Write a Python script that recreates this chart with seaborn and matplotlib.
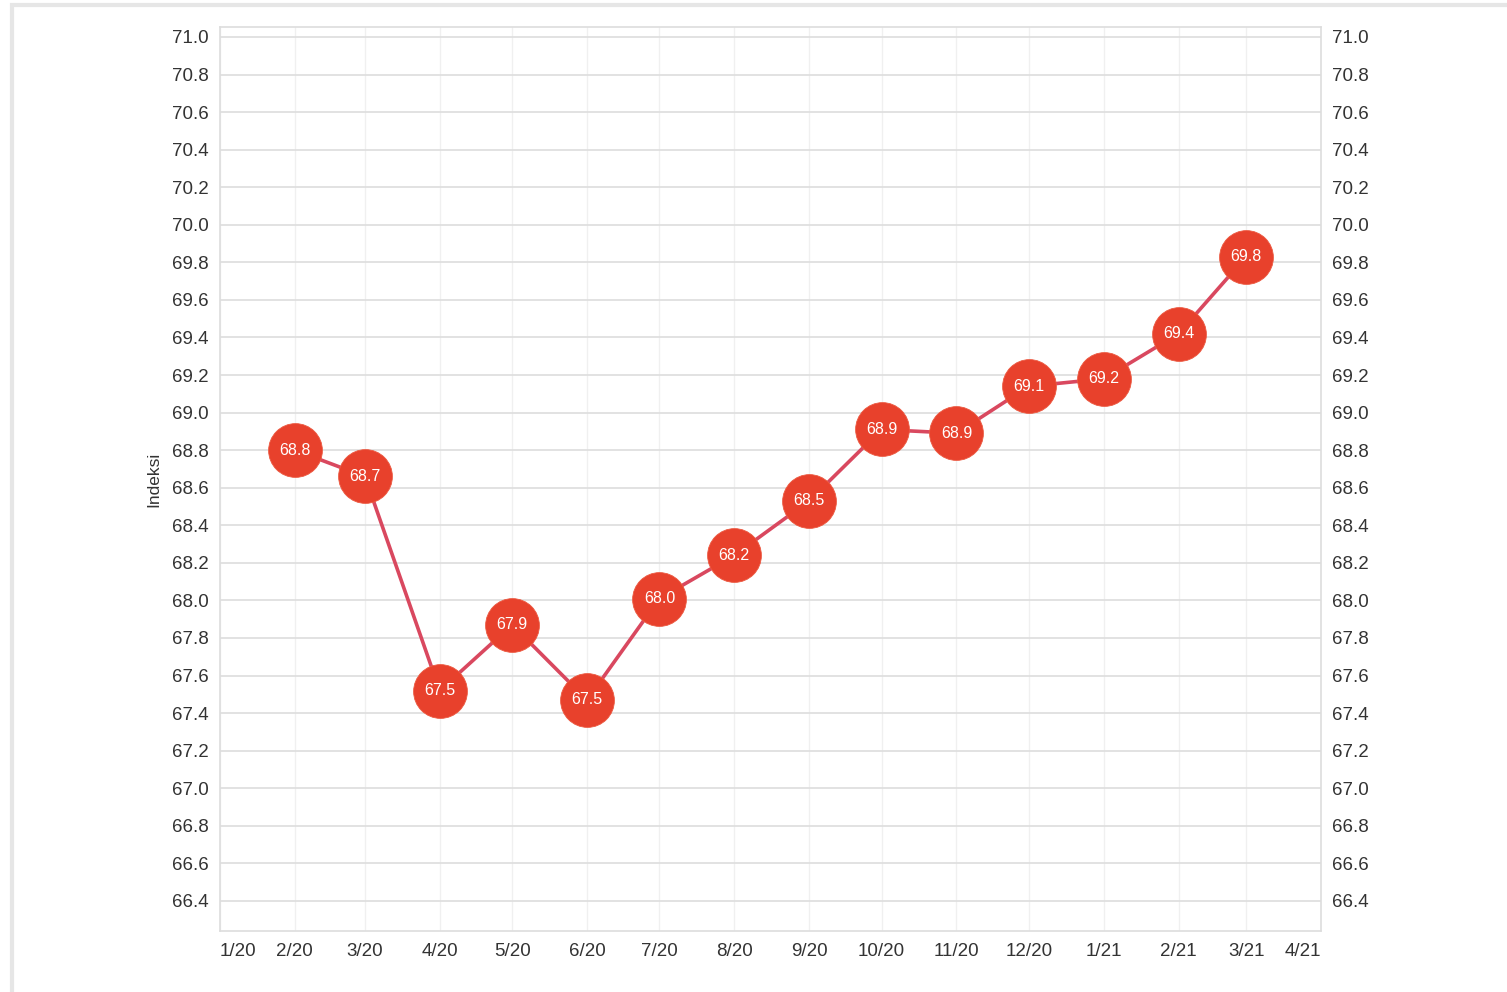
import matplotlib
matplotlib.use("Agg")
import matplotlib.pyplot as plt
import matplotlib.patches as mpatches
import seaborn as sns
import pandas as pd
import numpy as np

# Data
months = ["2020-02-01", "2020-03-01", "2020-04-01", "2020-05-01", "2020-06-01",
          "2020-07-01", "2020-08-01", "2020-09-01", "2020-10-01", "2020-11-01",
          "2020-12-01", "2021-01-01", "2021-02-01", "2021-03-01"]
values = [68.80, 68.66, 67.52, 67.87, 67.47, 68.01, 68.24, 68.53, 68.91, 68.89,
          69.14, 69.18, 69.42, 69.83]
tick_dates = ["2020-01-01", "2020-02-01", "2020-03-01", "2020-04-01", "2020-05-01",
              "2020-06-01", "2020-07-01", "2020-08-01", "2020-09-01", "2020-10-01",
              "2020-11-01", "2020-12-01", "2021-01-01", "2021-02-01", "2021-03-01",
              "2021-04-01"]
tick_labels = ["1/20", "2/20", "3/20", "4/20", "5/20", "6/20", "7/20", "8/20",
               "9/20", "10/20", "11/20", "12/20", "1/21", "2/21", "3/21", "4/21"]
y_label = "Indeksi"

df = pd.DataFrame({"date": pd.to_datetime(months), "value": values})

sns.set_theme(style="white")
plt.rcParams['font.family'] = ['Liberation Sans', 'DejaVu Sans']

fig = plt.figure(figsize=(15.07, 9.92), dpi=100)
ax = fig.add_axes([0.146, 0.0615, 0.7306, 0.9113])

sns.lineplot(data=df, x="date", y="value", ax=ax, color="#d9485f", linewidth=2.6, zorder=3)
sns.scatterplot(data=df, x="date", y="value", ax=ax, s=1500, color="#e8412c",
                edgecolor="#ec5a42", linewidth=0.6, zorder=4, legend=False)

for d, v in zip(df["date"], df["value"]):
    ax.text(d, v, f"{v:.1f}", ha="center", va="center", color="white",
            fontsize=11.5, zorder=5)

ax.set_xlim(pd.Timestamp("2020-01-01"), pd.Timestamp("2021-04-01"))
ax.set_ylim(66.24, 71.053)

ax.set_yticks(np.round(np.arange(66.4, 71.01, 0.2), 1))
ax.yaxis.set_major_formatter(matplotlib.ticker.FormatStrFormatter("%.1f"))
tds = pd.to_datetime(tick_dates)
ax.set_xticks(tds)
ax.set_xticklabels(tick_labels)
xl = ax.get_xticklabels()
xl[0].set_horizontalalignment("left")
xl[-1].set_horizontalalignment("right")

ax.tick_params(axis="y", which="both", length=0, pad=8, labelsize=13.5,
               labelcolor="#333333", labelright=True)
ax.tick_params(axis="x", length=0, pad=9, labelsize=13.5, labelcolor="#333333")

ax.grid(axis="y", color="#dddddd", linewidth=1.2)
ax.grid(axis="x", color="#f0f0f0", linewidth=1.0)
ax.set_axisbelow(True)
for sp in ax.spines.values():
    sp.set_color("#dddddd")
    sp.set_linewidth(1.2)

ax.set_xlabel("")
ax.set_ylabel(y_label, fontsize=12.5, color="#333333", labelpad=8)

# outer border
fig.patches.append(mpatches.Rectangle((12/1507, -0.01), 1.0, 1 - 5/992 + 0.01,
                                      transform=fig.transFigure, fill=False,
                                      edgecolor="#e6e6e6", linewidth=3))

fig.savefig("out.png", dpi=100)
